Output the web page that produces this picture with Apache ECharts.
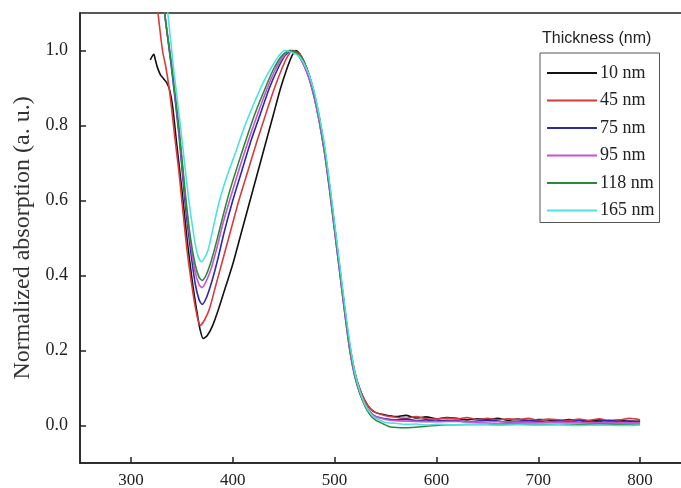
<!DOCTYPE html>
<html><head><meta charset="utf-8">
<script src="https://cdn.jsdelivr.net/npm/echarts@6/dist/echarts.min.js"></script>
<style>html,body{margin:0;padding:0;background:#fff}#c{width:681px;height:488px}</style>
</head><body><div id="c"></div>
<script>
const seriesNames = ['10 nm','45 nm','75 nm','95 nm','118 nm','165 nm'];
const seriesColors = ['#111111','#d93b3b','#2b2ba8','#cc50d8','#2a8a38','#4fe0e0'];
const xTicks = [300,400,500,600,700,800];
const yTicks = [0.0,0.2,0.4,0.6,0.8,1.0];

const s10 = [[319,0.975],[321,0.985],[322.5,0.99],[324,0.975],[326,0.955],[329,0.935],[332,0.925],[335,0.915],[338,0.895],[341,0.85],[345,0.75],[350,0.63],[355,0.5],[360,0.39],[365,0.3],[368,0.255],[371,0.232],[375,0.24],[380,0.265],[386,0.31],[393,0.37],[400,0.43],[408,0.51],[416,0.59],[424,0.67],[432,0.75],[440,0.83],[447,0.9],[453,0.95],[458,0.985],[462,1.0],[466,0.99],[470,0.97],[475,0.935],[480,0.885],[485,0.82],[490,0.74],[495,0.64],[500,0.53],[505,0.42],[510,0.31],[515,0.21],[520,0.14],[525,0.095],[530,0.065],[535,0.045],[540,0.035],[550,0.028],[560,0.024],[570,0.027],[580,0.02],[590,0.023],[600,0.018],[610,0.021],[620,0.019],[630,0.015],[640,0.018],[650,0.016],[660,0.019],[670,0.014],[680,0.017],[690,0.013],[700,0.016],[710,0.015],[720,0.012],[730,0.016],[740,0.014],[750,0.012],[760,0.015],[770,0.012],[780,0.014],[790,0.011],[800,0.012]];
const s45 = [[324,1.16],[327,1.09],[331,1.0],[334,0.96],[337,0.91],[340,0.845],[343,0.77],[347,0.68],[350,0.6],[355,0.47],[360,0.37],[364,0.305],[368,0.267],[372,0.28],[377,0.31],[383,0.37],[390,0.44],[398,0.52],[406,0.6],[415,0.68],[424,0.76],[433,0.835],[441,0.9],[448,0.95],[454,0.985],[459,1.0],[466,0.99],[470,0.97],[475,0.935],[480,0.885],[485,0.82],[490,0.74],[495,0.64],[500,0.53],[505,0.42],[510,0.31],[515,0.21],[520,0.14],[525,0.095],[530,0.065],[535,0.045],[540,0.035],[550,0.026],[560,0.022],[570,0.019],[580,0.024],[590,0.018],[600,0.017],[610,0.02],[620,0.018],[630,0.021],[640,0.016],[650,0.019],[660,0.015],[670,0.018],[680,0.016],[690,0.019],[700,0.014],[710,0.017],[720,0.015],[730,0.013],[740,0.017],[750,0.014],[760,0.018],[770,0.013],[780,0.015],[790,0.019],[800,0.015]];
const s75 = [[331,1.16],[334,1.08],[340,0.95],[347,0.78],[353,0.6],[358,0.48],[363,0.38],[367,0.335],[370,0.323],[374,0.34],[379,0.38],[385,0.44],[392,0.52],[400,0.6],[409,0.68],[418,0.76],[427,0.83],[436,0.9],[444,0.95],[451,0.985],[458,1.0],[465,0.985],[470,0.96],[475,0.925],[480,0.875],[485,0.81],[490,0.73],[495,0.63],[500,0.52],[505,0.41],[510,0.3],[515,0.2],[520,0.13],[525,0.085],[530,0.055],[535,0.035],[540,0.025],[550,0.018],[560,0.015],[570,0.017],[580,0.013],[590,0.015],[600,0.012],[610,0.014],[620,0.013],[630,0.01],[640,0.012],[650,0.014],[660,0.012],[670,0.009],[680,0.011],[690,0.013],[700,0.011],[710,0.009],[720,0.012],[730,0.01],[740,0.013],[750,0.009],[760,0.011],[770,0.014],[780,0.01],[790,0.012],[800,0.009]];
const s95 = [[331,1.16],[334,1.08],[340,0.96],[347,0.79],[353,0.62],[358,0.5],[363,0.41],[367,0.375],[370,0.368],[374,0.385],[379,0.42],[385,0.48],[391,0.545],[398,0.61],[407,0.69],[416,0.765],[425,0.835],[434,0.9],[442,0.95],[450,0.985],[457,1.0],[465,0.985],[470,0.96],[475,0.925],[480,0.875],[485,0.81],[490,0.73],[495,0.63],[500,0.52],[505,0.41],[510,0.3],[515,0.2],[520,0.13],[525,0.085],[530,0.055],[535,0.035],[540,0.024],[550,0.016],[560,0.013],[580,0.011],[600,0.01],[620,0.011],[640,0.009],[660,0.01],[680,0.009],[700,0.008],[720,0.009],[740,0.008],[760,0.007],[780,0.008],[800,0.007]];
const s118 = [[331,1.16],[334,1.08],[340,0.96],[347,0.8],[353,0.63],[358,0.51],[363,0.43],[367,0.395],[370,0.387],[374,0.402],[379,0.44],[385,0.5],[391,0.565],[397,0.625],[405,0.695],[414,0.77],[423,0.84],[432,0.9],[440,0.95],[448,0.985],[456,1.0],[465,0.99],[470,0.97],[475,0.935],[480,0.885],[485,0.82],[490,0.74],[495,0.64],[500,0.53],[505,0.42],[510,0.31],[515,0.21],[520,0.135],[525,0.085],[530,0.05],[535,0.028],[540,0.015],[548,0.004],[555,-0.004],[570,-0.006],[590,-0.002],[610,0.002],[640,0.003],[680,0.004],[720,0.003],[760,0.004],[800,0.003]];
const s165 = [[334,1.16],[337,1.08],[342,0.95],[349,0.79],[356,0.62],[361,0.52],[365,0.46],[369,0.437],[372,0.445],[376,0.47],[381,0.53],[387,0.6],[395,0.67],[403,0.73],[412,0.8],[421,0.86],[430,0.915],[438,0.955],[445,0.985],[451,1.0],[458,0.995],[465,0.985],[470,0.965],[475,0.935],[480,0.89],[485,0.825],[490,0.75],[495,0.65],[500,0.54],[505,0.43],[510,0.32],[515,0.22],[520,0.14],[525,0.09],[530,0.055],[535,0.033],[540,0.02],[550,0.008],[560,0.006],[570,0.003],[580,0.004],[590,0.001],[600,0.003],[620,0.002],[640,0.003],[660,0.001],[680,0.002],[700,0.001],[720,0.002],[740,0.0],[760,0.001],[780,0.0],[800,0.001]];
const allData = [s10,s45,s75,s95,s118,s165];

const chart = echarts.init(document.getElementById('c'));
const serif = 'Liberation Serif';
chart.setOption({
  animation:false,
  backgroundColor:'#fff',
  title:{text:'Thickness (nm)',left:542,top:31,padding:0,
    textStyle:{fontFamily:'Liberation Sans',fontSize:16,fontWeight:'normal',color:'#222'}},
  legend:{orient:'vertical',left:540,top:53,
    data:seriesNames, icon:'rect', itemWidth:50, itemHeight:2, itemGap:9.5,
    padding:[11,5,3,7], borderColor:'#555', borderWidth:1,
    textStyle:{fontFamily:serif,fontSize:18,color:'#222',padding:[0,0,0,-2]}},
  grid:{left:80,top:13,right:-10,bottom:25,containLabel:false,outerBoundsMode:'none',
    show:true,borderColor:'#222',borderWidth:1.5},
  xAxis:{type:'value',min:250,max:850,
    axisLine:{onZero:false,lineStyle:{color:'#222',width:1.5}},
    axisTick:{inside:true,length:6,lineStyle:{color:'#222',width:1.5},customValues:xTicks},
    axisLabel:{customValues:xTicks,margin:9,fontFamily:serif,fontSize:17,color:'#222'},
    splitLine:{show:false}},
  yAxis:{type:'value',min:-0.1,max:1.1,
    name:'Normalized absorption (a. u.)',nameLocation:'middle',nameGap:43,
    nameTextStyle:{fontFamily:serif,fontSize:24,color:'#333'},
    axisLine:{onZero:false,lineStyle:{color:'#222',width:1.5}},
    axisTick:{inside:true,length:6,lineStyle:{color:'#222',width:1.5},customValues:yTicks},
    axisLabel:{customValues:yTicks,margin:12,fontFamily:serif,fontSize:18,color:'#222',
      formatter:v=>v.toFixed(1)},
    splitLine:{show:false}},
  series: allData.map((d,i)=>({
    name:seriesNames[i], type:'line', data:d, showSymbol:false, symbol:'none',
    smooth:0.25, clip:true,
    lineStyle:{color:seriesColors[i],width:1.6},
    itemStyle:{color:seriesColors[i]}
  }))
});
</script></body></html>
